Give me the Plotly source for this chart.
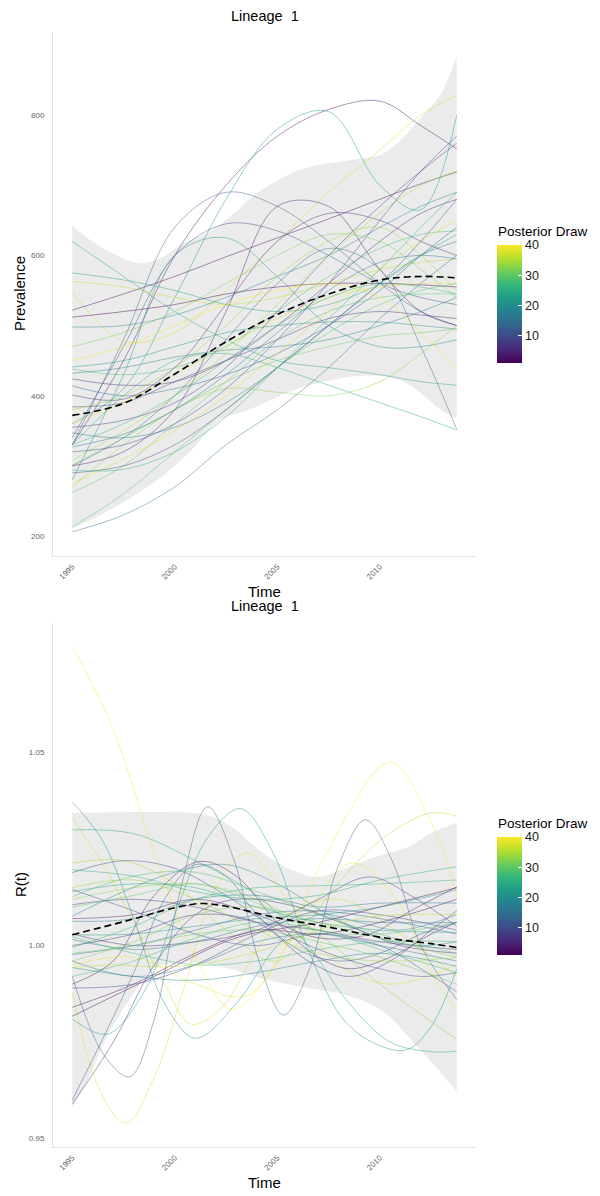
import plotly.graph_objects as go
from plotly.colors import sample_colorscale

W, H = 600, 1196

# ---------------- Panel 1 : Prevalence ----------------
P_TIMES = [1995, 1997.5, 2000, 2002.5, 2005, 2007.5, 2010, 2012, 2013.75]
p_draw_ids = [3, 22, 12, 11, 20, 4, 24, 23, 36, 37,
              2, 1, 19, 21, 28, 18, 5, 13, 6, 7,
              39, 8, 17, 14, 25, 33, 15, 29, 30, 38,
              10, 26, 31, 35, 9, 16, 27, 40, 34, 32]
p_values = [
    [330, 450, 600, 700, 770, 808, 820, 785, 752],
    [360, 410, 540, 680, 780, 805, 700, 665, 800],
    [330, 480, 640, 690, 670, 620, 560, 520, 500],
    [340, 470, 600, 645, 635, 600, 560, 540, 530],
    [280, 430, 600, 625, 570, 500, 470, 470, 480],
    [300, 320, 380, 520, 670, 670, 580, 520, 500],
    [620, 570, 520, 480, 450, 440, 430, 420, 415],
    [575, 565, 550, 530, 520, 530, 560, 600, 630],
    [563, 555, 540, 530, 540, 560, 580, 590, 595],
    [548, 478, 490, 550, 620, 690, 750, 800, 828],
    [522, 545, 570, 598, 625, 652, 680, 702, 719],
    [512, 520, 530, 545, 555, 560, 560, 558, 555],
    [498, 500, 515, 540, 570, 600, 640, 670, 690],
    [441, 450, 470, 490, 500, 505, 505, 500, 495],
    [438, 430, 440, 470, 520, 570, 610, 630, 635],
    [432, 440, 455, 465, 470, 480, 500, 520, 540],
    [424, 415, 420, 450, 500, 560, 620, 660, 680],
    [414, 400, 410, 430, 460, 500, 550, 600, 640],
    [401, 395, 440, 530, 620, 660, 650, 620, 600],
    [384, 390, 420, 450, 480, 510, 520, 515, 510],
    [361, 390, 430, 470, 510, 540, 555, 560, 560],
    [355, 365, 390, 440, 520, 600, 670, 720, 760],
    [347, 340, 355, 390, 440, 500, 560, 600, 620],
    [300, 340, 400, 480, 560, 610, 580, 470, 352],
    [330, 400, 450, 460, 440, 415, 390, 370, 351],
    [270, 330, 380, 410, 405, 400, 420, 460, 500],
    [206, 230, 270, 330, 380, 440, 510, 560, 600],
    [213, 260, 320, 380, 440, 490, 530, 550, 560],
    [262, 300, 360, 420, 480, 520, 540, 545, 545],
    [275, 310, 350, 400, 460, 520, 580, 620, 650],
    [290, 300, 330, 380, 440, 500, 560, 620, 680],
    [294, 295, 320, 370, 440, 510, 580, 640, 690],
    [301, 340, 380, 420, 450, 470, 485, 490, 495],
    [308, 350, 400, 460, 530, 600, 660, 700, 720],
    [320, 330, 360, 410, 480, 560, 650, 720, 770],
    [327, 345, 380, 430, 490, 550, 590, 600, 595],
    [330, 360, 400, 450, 500, 540, 560, 555, 545],
    [450, 470, 500, 530, 550, 560, 540, 490, 440],
    [380, 400, 440, 500, 570, 620, 640, 600, 550],
    [470, 490, 520, 560, 600, 630, 620, 580, 540],
]
p_mean = [372, 389, 431, 477, 516, 545, 565, 570, 568]
p_upper_t = [1995, 1996.4, 1998.3, 1999.3, 2000.4, 2001.6, 2002.9, 2003.7,
             2006.1, 2008.6, 2010, 2011, 2012, 2012.95, 2013.75]
p_upper = [642, 612, 589, 596, 617, 632, 660, 682, 722, 736, 743, 764, 796, 829, 884]
p_lower_t = [1995, 1996.4, 1997.8, 1999.3, 2000.8, 2002.2, 2003.7, 2006.1,
             2008.6, 2010, 2011, 2012, 2012.95, 2013.75]
p_lower = [211, 230, 254, 283, 322, 365, 381, 411, 427, 428, 422, 404, 380, 368]

# ---------------- Panel 2 : R(t) ----------------
r_draw_ids = [40, 38, 37, 35, 39, 33, 13, 22, 20, 24,
              12, 1, 2, 3, 4, 5, 6, 7, 8, 9,
              10, 11, 14, 15, 16, 17, 18, 19, 21, 23,
              25, 26, 27, 28, 29, 30, 31, 32, 34, 36]
r_times = [
    [1995, 1997, 1999, 2001, 2002.8, 2005, 2007.5, 2010.5, 2012.5, 2013.75],
    [1995, 1996.3, 1997.6, 1999, 2000.5, 2002, 2003.5, 2005.5, 2008, 2010.5, 2013.75],
    [1995, 1996.5, 1998, 1999.5, 2000.8, 2002.3, 2003.8, 2005.5, 2008, 2011, 2013.75],
    [1995, 1997.5, 2000, 2002.5, 2005, 2007.7, 2010.2, 2012.5, 2013.75],
    [1995, 1998, 2001, 2003.5, 2006, 2008.6, 2010.8, 2012.5, 2013.75],
    [1995, 1998, 2001, 2004, 2007, 2010, 2013.75],
    [1995, 1996.5, 1997.8, 1999, 2000.3, 2001.6, 2002.9, 2004.1, 2005.3, 2006.5,
     2008, 2009.3, 2010.6, 2012, 2013.75],
    [1995, 1996.7, 1998.5, 2000, 2001.6, 2003.2, 2004.8, 2006.5, 2008.2, 2009.8,
     2011.3, 2012.5, 2013.75],
    [1995, 1996.5, 1998, 1999.5, 2001, 2003, 2005, 2007, 2009, 2011, 2013.75],
    [1995, 1998, 2001, 2004, 2006.5, 2008.5, 2010.5, 2012.5, 2013.75],
    [1995, 1996.5, 1998, 1999.5, 2001, 2002.5, 2004, 2006, 2008, 2010, 2012, 2013.75],
    [1995, 1999, 2003, 2007, 2010, 2013.75],
    [1995, 1998, 2001, 2004, 2007, 2010, 2013.75],
    [1995, 1997, 1999, 2001.2, 2003, 2005, 2007, 2008.5, 2010.5, 2012.5, 2013.75],
    [1995, 1998, 2001, 2004, 2007, 2009.5, 2011.5, 2013.75],
    [1995, 1997, 1999, 2001, 2003, 2006, 2009, 2011, 2013.75],
    [1995, 1998, 2001, 2004, 2006.5, 2008.5, 2010.5, 2012.5, 2013.75],
    [1995, 1998, 2001, 2004, 2007, 2009.5, 2011.5, 2013.75],
    [1995, 1998, 2001, 2004, 2007, 2010, 2013.75],
    [1995, 1998, 2001, 2004, 2007, 2010, 2013.75],
    [1995, 1997.5, 2000, 2002.5, 2005, 2007.5, 2010, 2012, 2013.75],
    [1995, 1998, 2001, 2004, 2007, 2010, 2012.3, 2013.75],
    [1995, 1998, 2001, 2004, 2007, 2010, 2013.75],
    [1995, 1998, 2001, 2004, 2007, 2010, 2013.75],
    [1995, 1998, 2001, 2004, 2007, 2010, 2013.75],
    [1995, 1998, 2001, 2004, 2007, 2010, 2013.75],
    [1995, 1997.5, 2000, 2002.5, 2005, 2007.5, 2010, 2012, 2013.75],
    [1995, 1998, 2001, 2004, 2007, 2010, 2013.75],
    [1995, 1998, 2001, 2004, 2007, 2010, 2013.75],
    [1995, 1998, 2001, 2004, 2007, 2010, 2013.75],
    [1995, 1998, 2001, 2004, 2007, 2010, 2013.75],
    [1995, 1998, 2001, 2004, 2007, 2010, 2013.75],
    [1995, 1998, 2001, 2004, 2007, 2010, 2013.75],
    [1995, 1998, 2001, 2004, 2007, 2010, 2013.75],
    [1995, 1998, 2001, 2004, 2007, 2010, 2013.75],
    [1995, 1998, 2001, 2004, 2007, 2010, 2013.75],
    [1995, 1998, 2001, 2004, 2007, 2010, 2013.75],
    [1995, 1998, 2001, 2004, 2007, 2010, 2013.75],
    [1995, 1998, 2001, 2004, 2007, 2010, 2013.75],
    [1995, 1997, 1999, 2001, 2003, 2005, 2007, 2009, 2011, 2013.75],
]
r_values = [
    [1.0775, 1.056, 1.024, 0.997, 0.9835, 0.996, 1.025, 1.0475, 1.032, 1.013],
    [0.988, 0.963, 0.954, 0.966, 0.990, 1.015, 1.024, 1.012, 0.995, 0.990, 0.995],
    [1.033, 1.021, 1.006, 0.990, 0.9796, 0.984, 0.997, 1.008, 1.012, 1.003, 0.992],
    [1.0214, 1.022, 1.016, 1.004, 0.996, 1.0145, 1.028, 1.0344, 1.0335],
    [0.995, 0.997, 0.990, 0.987, 1.004, 1.0214, 1.012, 0.993, 0.983],
    [1.012, 1.015, 1.016, 1.012, 1.003, 0.990, 0.9757],
    [0.992, 0.972, 0.966, 0.981, 1.015, 1.036, 1.022, 0.996, 0.982, 0.993,
     1.021, 1.0326, 1.022, 1.000, 0.986],
    [0.981, 0.977, 0.988, 1.008, 1.028, 1.0355, 1.024, 0.999, 0.981, 0.9745,
     0.973, 0.979, 0.994],
    [1.0372, 1.027, 1.007, 0.985, 0.976, 0.985, 1.000, 1.008, 1.006, 1.004, 1.008],
    [1.030, 1.029, 1.022, 1.013, 1.000, 0.985, 0.975, 0.9725, 0.9726],
    [0.960, 0.976, 0.993, 1.012, 1.021, 1.018, 1.008, 0.999, 0.996, 0.998, 1.003, 1.006],
    [0.9817, 0.992, 1.002, 1.006, 1.010, 1.015],
    [0.984, 0.990, 0.998, 1.004, 1.003, 1.006, 1.012],
    [0.990, 0.996, 1.013, 1.0218, 1.018, 1.006, 0.997, 0.994, 0.997, 1.003, 1.006],
    [1.007, 1.008, 1.012, 1.008, 1.002, 1.003, 1.009, 1.0152],
    [0.959, 0.975, 0.995, 1.008, 1.012, 1.010, 1.004, 1.000, 0.998],
    [1.000, 1.003, 1.008, 1.006, 0.996, 0.992, 0.996, 1.004, 1.009],
    [1.003, 1.000, 1.001, 1.004, 1.012, 1.0178, 1.013, 1.005],
    [1.0106, 1.012, 1.010, 1.006, 1.004, 1.001, 0.999],
    [0.989, 0.990, 0.995, 1.003, 1.009, 1.008, 1.004],
    [1.0189, 1.022, 1.020, 1.013, 1.004, 0.998, 0.994, 0.992, 0.993],
    [1.0145, 1.009, 1.003, 1.000, 1.003, 1.000, 0.993, 0.988],
    [0.9977, 1.000, 1.004, 1.008, 1.009, 1.007, 1.003],
    [1.0016, 0.999, 1.001, 1.005, 1.007, 1.006, 1.006],
    [0.996, 0.992, 0.995, 1.001, 1.003, 1.000, 0.996],
    [1.0063, 1.007, 1.012, 1.013, 1.010, 1.011, 1.011],
    [1.0076, 1.014, 1.019, 1.021, 1.016, 1.008, 1.002, 1.000, 1.001],
    [0.9943, 0.992, 0.991, 0.993, 0.996, 0.998, 0.9946],
    [1.0028, 1.003, 1.005, 1.007, 1.008, 1.010, 1.0145],
    [1.014, 1.016, 1.015, 1.010, 1.006, 1.004, 1.0034],
    [1.0196, 1.018, 1.014, 1.012, 1.013, 1.017, 1.0204],
    [0.9995, 1.005, 1.012, 1.015, 1.0155, 1.016, 1.017],
    [1.0023, 0.998, 0.995, 0.996, 0.999, 1.001, 1.001],
    [0.992, 0.996, 1.002, 1.006, 1.004, 0.999, 0.993],
    [1.0127, 1.018, 1.019, 1.014, 1.008, 1.003, 0.998],
    [1.010, 1.013, 1.016, 1.011, 1.004, 1.003, 1.006],
    [0.998, 1.000, 1.003, 1.004, 1.001, 0.997, 0.990],
    [0.996, 1.001, 1.008, 1.010, 1.006, 1.002, 0.997],
    [1.015, 1.017, 1.012, 1.004, 0.998, 0.996, 0.9969],
    [0.9943, 0.995, 0.9945, 0.995, 0.997, 1.000, 1.004, 1.007, 1.008, 1.008],
]
r_mean_t = [1995, 1997.5, 2000, 2001.3, 2002.5, 2005, 2007.5, 2010, 2012.5, 2013.75]
r_mean = [1.0028, 1.0062, 1.0098, 1.0109, 1.0102, 1.0072, 1.0048, 1.0022, 1.0005, 0.9995]
r_upper_t = [1995, 1999.2, 2001.5, 2002.8, 2004.1, 2005.7, 2007, 2008.1, 2009.8,
             2011.4, 2012.5, 2013.75]
r_upper = [1.0344, 1.0346, 1.0339, 1.0307, 1.0248, 1.0196, 1.0178, 1.0196, 1.0230,
           1.0256, 1.0292, 1.0318]
r_lower_t = [1995, 1995.7, 1996.8, 1997.9, 1998.9, 2000.5, 2002.8, 2004.4, 2006.1,
             2008.6, 2010.2, 2011.8, 2013.75]
r_lower = [0.958, 0.9646, 0.9775, 0.9868, 0.9938, 0.9956, 0.9938, 0.9912, 0.9894,
           0.9868, 0.9827, 0.974, 0.9623]

x_ticks = [1995, 2000, 2005, 2010]
x_tick_text = ["1995", "2000", "2005", "2010"]
p_ticks = [200, 400, 600, 800]
r_ticks = [0.95, 1.00, 1.05]
r_tick_text = ["0.95", "1.00", "1.05"]
draw_ticks = [10, 20, 30, 40]
N_DRAWS = 40

FONT = "Liberation Sans, Arial, Helvetica, sans-serif"


def draw_color(i, alpha=0.5):
    c = sample_colorscale("Viridis", [(i - 1) / (N_DRAWS - 1)])[0]
    c = c.replace("rgb(", "").replace(")", "")
    r, g, b = [int(float(v)) for v in c.split(",")]
    return f"rgba({r},{g},{b},{alpha})"


def py(px):  # pixel (from top) -> paper y
    return 1 - px / H


def pxx(px):
    return px / W


fig = go.Figure()

# ---- panel 1
fig.add_trace(go.Scatter(x=p_lower_t, y=p_lower, mode="lines", line=dict(width=0, shape="spline"),
                         xaxis="x", yaxis="y", hoverinfo="skip"))
fig.add_trace(go.Scatter(x=p_upper_t, y=p_upper, mode="lines", line=dict(width=0, shape="spline"),
                         fill="tonexty", fillcolor="#EBEBEB", xaxis="x", yaxis="y", hoverinfo="skip"))
for did, vals in zip(p_draw_ids, p_values):
    fig.add_trace(go.Scatter(x=P_TIMES, y=vals, mode="lines",
                             line=dict(width=0.9, color=draw_color(did), shape="spline"),
                             xaxis="x", yaxis="y"))
fig.add_trace(go.Scatter(x=P_TIMES, y=p_mean, mode="lines",
                         line=dict(width=1.6, color="black", dash="7px,4px", shape="spline"),
                         xaxis="x", yaxis="y"))
fig.add_trace(go.Scatter(x=[P_TIMES[0], P_TIMES[0]], y=[p_mean[0], p_mean[0]], mode="markers",
                         marker=dict(size=1, opacity=0, color=[1, N_DRAWS], coloraxis="coloraxis"),
                         xaxis="x", yaxis="y", hoverinfo="skip"))

# ---- panel 2
fig.add_trace(go.Scatter(x=r_lower_t, y=r_lower, mode="lines", line=dict(width=0, shape="spline"),
                         xaxis="x2", yaxis="y2", hoverinfo="skip"))
fig.add_trace(go.Scatter(x=r_upper_t, y=r_upper, mode="lines", line=dict(width=0, shape="spline"),
                         fill="tonexty", fillcolor="#EBEBEB", xaxis="x2", yaxis="y2", hoverinfo="skip"))
for did, ts, vals in zip(r_draw_ids, r_times, r_values):
    fig.add_trace(go.Scatter(x=ts, y=vals, mode="lines",
                             line=dict(width=0.9, color=draw_color(did), shape="spline"),
                             xaxis="x2", yaxis="y2"))
fig.add_trace(go.Scatter(x=r_mean_t, y=r_mean, mode="lines",
                         line=dict(width=1.6, color="black", dash="7px,4px", shape="spline"),
                         xaxis="x2", yaxis="y2"))
fig.add_trace(go.Scatter(x=[r_mean_t[0], r_mean_t[0]], y=[r_mean[0], r_mean[0]], mode="markers",
                         marker=dict(size=1, opacity=0, color=[1, N_DRAWS], coloraxis="coloraxis2"),
                         xaxis="x2", yaxis="y2", hoverinfo="skip"))

x_dom = [pxx(53), pxx(476)]
tickfont = dict(family=FONT, size=8, color="#666666")
common_x = dict(domain=x_dom, range=[1994.06, 2014.69], tickvals=x_ticks, ticktext=x_tick_text,
                tickangle=-45, showgrid=False, zeroline=False, showline=True,
                linecolor="#E3E3E3", linewidth=1, ticks="", tickfont=tickfont,
                ticklabelstandoff=2)
common_y = dict(showgrid=False, zeroline=False, showline=True, linecolor="#E3E3E3",
                linewidth=1, ticks="", tickfont=tickfont, ticklabelstandoff=6)

cb_common = dict(thickness=25, thicknessmode="pixels", len=118, lenmode="pixels",
                 x=pxx(497), xanchor="left", yanchor="middle", xpad=0, ypad=0,
                 outlinewidth=0, tickvals=draw_ticks, ticks="inside", tickcolor="white",
                 ticklen=4, tickwidth=1,
                 tickfont=dict(family=FONT, size=12.5, color="#1a1a1a"))

fig.update_layout(
    width=W, height=H, margin=dict(l=0, r=0, t=0, b=0),
    paper_bgcolor="white", plot_bgcolor="white", showlegend=False, hovermode=False,
    xaxis=dict(anchor="y", **common_x),
    yaxis=dict(anchor="x", domain=[py(556), py(32)], range=[171.5, 918.5],
               tickvals=p_ticks, **common_y),
    xaxis2=dict(anchor="y2", **common_x),
    yaxis2=dict(anchor="x2", domain=[py(1147), py(623)], range=[0.9478, 1.0836],
                tickvals=r_ticks, ticktext=r_tick_text, **common_y),
    coloraxis=dict(cmin=1, cmax=N_DRAWS, colorscale="Viridis",
                   colorbar=dict(y=py(304), **cb_common)),
    coloraxis2=dict(cmin=1, cmax=N_DRAWS, colorscale="Viridis",
                    colorbar=dict(y=py(896), **cb_common)),
)

title_font = dict(family=FONT, size=14.5, color="black")
axis_font = dict(family=FONT, size=15, color="black")
legend_font = dict(family=FONT, size=13.5, color="black")
ann = [
    dict(text="Lineage\u00a0 1", x=pxx(264.5), y=py(16), font=title_font),
    dict(text="Time", x=pxx(264.5), y=py(591), font=axis_font),
    dict(text="Prevalence", x=pxx(20), y=py(294), font=axis_font, textangle=-90),
    dict(text="Lineage\u00a0 1", x=pxx(264.5), y=py(606), font=title_font),
    dict(text="Time", x=pxx(264.5), y=py(1182), font=axis_font),
    dict(text="R(t)", x=pxx(20), y=py(885), font=axis_font, textangle=-90),
]
for a in ann:
    fig.add_annotation(xref="paper", yref="paper", showarrow=False,
                       xanchor="center", yanchor="middle", **a)
for ty in (232, 823):
    fig.add_annotation(xref="paper", yref="paper", showarrow=False, xanchor="left",
                       yanchor="middle", x=pxx(496), y=py(ty), text="Posterior Draw",
                       font=legend_font)

fig.write_html("out.html")
